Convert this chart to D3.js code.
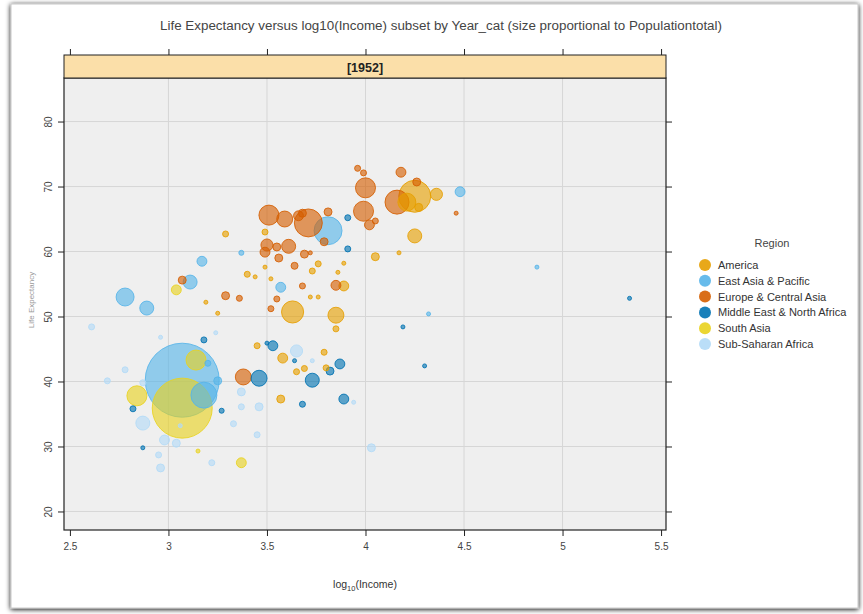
<!DOCTYPE html>
<html>
<head>
<meta charset="utf-8">
<script src="https://cdn.jsdelivr.net/npm/d3@7"></script>
<style>
  body { margin: 0; background: #fff; }
  svg { display: block; font-family: "Liberation Sans", Arial, sans-serif; }
</style>
</head>
<body>
<svg id="chart" width="863" height="614"></svg>
<script>
// Region levels, in legend order
const regionNames = ['America', 'East Asia & Pacific', 'Europe & Central Asia',
    'Middle East & North Africa', 'South Asia', 'Sub-Saharan Africa'];
const regionColors = ['#E69F00', '#56B4E9', '#D55E00', '#0072B2', '#E9D21E', '#B3DAF7'];

// [log10(income), life expectancy, population (millions)] per country, 1952
const america = [[4.25, 68.5, 105], [4.21, 67.6, 33], [4.27, 66.8, 6.5], [4.36, 68.8, 15],
    [4.25, 62.4, 20], [4.05, 59.2, 6.5], [4.17, 59.8, 1.6], [3.63, 50.7, 50], [3.85, 50.2, 26],
    [3.85, 48.1, 3.7], [3.29, 62.7, 3.7], [3.49, 63.0, 3.7], [3.49, 57.6, 1.6], [3.40, 56.5, 3.7],
    [3.44, 56.1, 1.6], [3.76, 58.1, 3.7], [3.73, 57.0, 3.7], [3.86, 56.8, 1.6], [3.89, 58.2, 1.6],
    [3.52, 55.8, 1.6], [3.89, 54.7, 10], [3.19, 52.2, 1.6], [3.25, 50.5, 1.6], [3.72, 53.0, 1.6],
    [3.76, 53.0, 1.6], [3.45, 45.5, 3.7], [3.58, 43.6, 10], [3.79, 44.5, 3.7], [3.80, 42.1, 3.7],
    [3.65, 41.5, 3.7], [3.69, 42.0, 3.7], [3.57, 37.3, 6.5]];
const eastAsia = [[3.07, 40.2, 560], [3.18, 37.9, 69], [3.81, 63.2, 80], [2.78, 53.0, 33],
    [2.89, 51.3, 20], [3.11, 55.3, 20], [3.17, 58.5, 10], [3.20, 42.8, 3.7], [3.25, 40.1, 6.5],
    [3.37, 59.8, 2.6], [3.57, 54.5, 10], [4.48, 69.2, 10], [4.87, 57.6, 1.6], [4.32, 50.4, 1.6]];
const europe = [[3.51, 65.6, 41], [3.59, 65.0, 26], [3.71, 64.4, 80], [3.68, 65.9, 6.5],
    [3.66, 65.5, 10], [3.81, 66.1, 6.5], [3.79, 61.5, 6.5], [3.50, 61.0, 15], [3.49, 59.9, 10],
    [3.55, 60.7, 6.5], [3.61, 60.8, 20], [3.56, 59.0, 6.5], [3.64, 57.8, 5], [3.69, 59.6, 6.5],
    [4.00, 69.8, 41], [3.99, 66.2, 41], [4.02, 64.1, 10], [4.05, 64.7, 3.7], [3.96, 72.8, 3.7],
    [3.99, 72.1, 3.7], [4.18, 72.2, 10], [4.16, 67.6, 59], [4.26, 70.7, 6.5], [4.46, 65.9, 1.6],
    [3.38, 40.7, 26], [3.07, 55.6, 6.5], [3.29, 53.2, 6.5], [3.36, 52.8, 3.7], [3.55, 52.7, 3.7],
    [3.52, 51.2, 3.7], [3.68, 54.7, 3.7], [3.85, 54.8, 10], [3.72, 59.8, 1.6]];
const middleEast = [[3.46, 40.5, 26], [3.73, 40.2, 20], [3.53, 45.5, 10], [3.87, 42.7, 10],
    [3.82, 41.6, 6.5], [3.89, 37.3, 10], [3.68, 36.5, 3.7], [3.50, 45.9, 1.6], [3.64, 43.2, 1.6],
    [3.18, 46.4, 3.7], [2.82, 35.8, 3.7], [3.27, 35.5, 2.6], [2.87, 29.8, 1.6], [3.91, 65.2, 3.7],
    [3.91, 60.4, 3.7], [4.19, 48.4, 1.6], [4.30, 42.4, 1.6], [5.34, 52.8, 1.6]];
const southAsia = [[3.07, 35.9, 368], [3.14, 43.3, 41], [2.84, 37.8, 41], [3.37, 27.5, 10],
    [3.04, 54.1, 10], [3.15, 29.3, 1.6]];
const subSaharan = [[3.65, 44.7, 15], [3.73, 43.2, 1.6], [2.87, 33.6, 20], [2.98, 31.0, 10],
    [3.04, 30.5, 6.5], [2.96, 26.7, 6.5], [2.95, 28.7, 3.7], [2.78, 41.8, 3.7], [2.61, 48.4, 3.7],
    [2.69, 40.1, 3.7], [2.96, 46.8, 1.6], [3.24, 47.5, 1.6], [2.87, 39.8, 3.7], [3.37, 38.4, 6.5],
    [3.37, 36.1, 3.7], [3.46, 36.1, 6.5], [3.33, 33.5, 3.7], [3.45, 31.8, 3.7], [3.22, 27.5, 3.7],
    [3.06, 33.2, 1.6], [4.03, 29.8, 6.5], [3.94, 36.8, 1.6]];

const xTicks = [2.5, 3, 3.5, 4, 4.5, 5, 5.5];
const yTicks = [20, 30, 40, 50, 60, 70, 80];
const stripLabel = '[1952]';

const groups = [america, eastAsia, europe, middleEast, southAsia, subSaharan];
const points = [];
groups.forEach((rows, g) => {
    rows.forEach(row => points.push({ region: g, income: row[0], life: row[1], pop: row[2] }));
});
points.sort((a, b) => b.pop - a.pop); // big bubbles underneath

const svg = d3.select('#chart');

// Screenshot-style frame with soft shadow
const defs = svg.append('defs');
const shadow = defs.append('filter').attr('id', 'shadow').attr('x', '-5%').attr('y', '-5%')
    .attr('width', '110%').attr('height', '110%');
shadow.append('feGaussianBlur').attr('in', 'SourceAlpha').attr('stdDeviation', 2.5);
shadow.append('feOffset').attr('dx', 0).attr('dy', 1).attr('result', 'blur');
const merge = shadow.append('feMerge');
merge.append('feMergeNode').attr('in', 'blur');
merge.append('feMergeNode').attr('in', 'SourceGraphic');
svg.append('rect').attr('x', 11).attr('y', 4).attr('width', 847).attr('height', 604)
    .attr('fill', '#fff').attr('stroke', '#c8c8c8').attr('stroke-width', 1)
    .attr('filter', 'url(#shadow)');

// Panel geometry
const pLeft = 64, pRight = 666, pTop = 78, pBottom = 530, stripTop = 55;
const x = d3.scaleLinear().domain([2.47, 5.525]).range([pLeft, pRight]);
const y = d3.scaleLinear().domain([17.15, 86.7]).range([pBottom, pTop]);
const size = d3.scaleSqrt().domain([0, 560]).range([0, 37]);
const color = d3.scaleOrdinal().domain(d3.range(regionNames.length)).range(regionColors);

// Title
svg.append('text').attr('x', 441).attr('y', 30).attr('text-anchor', 'middle')
    .attr('font-size', 12.5).attr('fill', '#444')
    .attr('textLength', 562).attr('lengthAdjust', 'spacingAndGlyphs')
    .text('Life Expectancy versus log10(Income) subset by Year_cat (size proportional to Populationtotal)');

// Panel background and grid
svg.append('rect').attr('x', pLeft).attr('y', pTop).attr('width', pRight - pLeft)
    .attr('height', pBottom - pTop).attr('fill', '#efefef');
svg.append('g').selectAll('line').data(xTicks.slice(1, -1)).join('line')
    .attr('x1', d => x(d)).attr('x2', d => x(d)).attr('y1', pTop).attr('y2', pBottom)
    .attr('stroke', '#d6d6d6').attr('stroke-width', 1);
svg.append('g').selectAll('line').data(yTicks).join('line')
    .attr('y1', d => y(d)).attr('y2', d => y(d)).attr('x1', pLeft).attr('x2', pRight)
    .attr('stroke', '#d6d6d6').attr('stroke-width', 1);

// Bubbles
svg.append('g').selectAll('circle').data(points).join('circle')
    .attr('cx', d => x(d.income)).attr('cy', d => y(d.life))
    .attr('r', d => Math.max(2, size(d.pop)))
    .attr('fill', d => color(d.region)).attr('fill-opacity', 0.62)
    .attr('stroke', d => color(d.region)).attr('stroke-opacity', 0.85).attr('stroke-width', 1);

// Panel border
svg.append('rect').attr('x', pLeft).attr('y', pTop).attr('width', pRight - pLeft)
    .attr('height', pBottom - pTop).attr('fill', 'none').attr('stroke', '#222').attr('stroke-width', 1.2);

// Strip
svg.append('rect').attr('x', pLeft).attr('y', stripTop).attr('width', pRight - pLeft)
    .attr('height', pTop - stripTop).attr('fill', '#fbdfa9').attr('stroke', '#222').attr('stroke-width', 1);
svg.append('text').attr('x', (pLeft + pRight) / 2).attr('y', 71.5).attr('text-anchor', 'middle')
    .attr('font-size', 12.5).attr('font-weight', 'bold').attr('fill', '#222').text(stripLabel);

// Axes: labelled bottom/left, ticks only top/right
const axisStyle = g => {
    g.select('.domain').remove();
    g.selectAll('.tick line').attr('stroke', '#222');
    g.selectAll('.tick text').attr('fill', '#444').attr('font-size', 10);
};
svg.append('g').attr('transform', `translate(0,${pBottom})`)
    .call(d3.axisBottom(x).tickValues(xTicks).tickSize(6).tickPadding(7).tickFormat(d3.format('')))
    .call(axisStyle);
svg.append('g').attr('transform', `translate(0,${stripTop})`)
    .call(d3.axisTop(x).tickValues(xTicks).tickSize(6).tickFormat(''))
    .call(axisStyle);
const yAxis = svg.append('g').attr('transform', `translate(${pLeft},0)`)
    .call(d3.axisLeft(y).tickValues(yTicks).tickSize(6).tickFormat(d3.format('')))
    .call(axisStyle);
yAxis.selectAll('.tick text').attr('transform', 'rotate(-90)')
    .attr('x', 0).attr('y', -12).attr('dy', 0).attr('text-anchor', 'middle');
svg.append('g').attr('transform', `translate(${pRight},0)`)
    .call(d3.axisRight(y).tickValues(yTicks).tickSize(6).tickFormat(''))
    .call(axisStyle);

// Axis titles
const xLab = svg.append('text').attr('x', 365).attr('y', 588).attr('text-anchor', 'middle')
    .attr('font-size', 10.5).attr('fill', '#333');
xLab.append('tspan').text('log');
xLab.append('tspan').attr('font-size', 7.5).attr('dy', 3).text('10');
xLab.append('tspan').attr('dy', -3).text('(Income)');
svg.append('text').attr('transform', 'translate(34,300) rotate(-90)').attr('text-anchor', 'middle')
    .attr('font-size', 8).attr('fill', '#9a9a9a').text('Life Expectancy');

// Legend
const legend = svg.append('g').attr('transform', 'translate(705,0)');
legend.append('text').attr('x', 67).attr('y', 247).attr('text-anchor', 'middle')
    .attr('font-size', 11).attr('fill', '#444').text('Region');
const item = legend.selectAll('g.item').data(regionNames).join('g').attr('class', 'item')
    .attr('transform', (d, i) => `translate(0,${265 + i * 15.8})`);
item.append('circle').attr('r', 6).attr('fill', (d, i) => color(i)).attr('fill-opacity', 0.9);
item.append('text').attr('x', 13).attr('y', 4).attr('font-size', 11).attr('fill', '#333').text(d => d);
</script>
</body>
</html>
